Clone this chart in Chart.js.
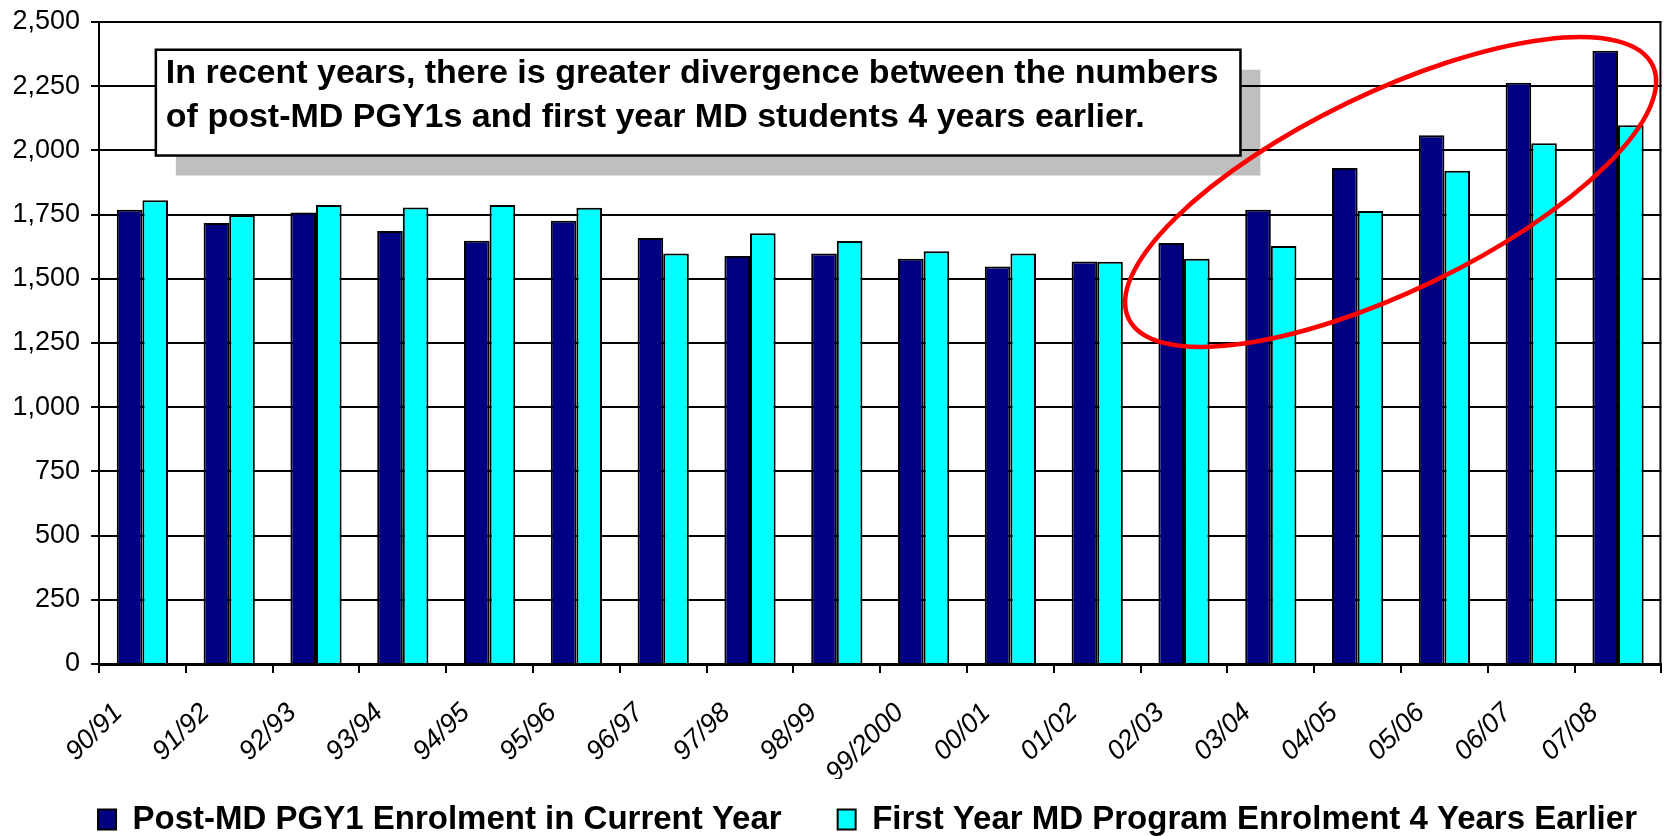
<!DOCTYPE html>
<html>
<head>
<meta charset="utf-8">
<script src="https://cdn.jsdelivr.net/npm/chart.js@4.4.1/dist/chart.umd.min.js"></script>
<style>
  html, body { margin: 0; padding: 0; background: #ffffff; }
  #wrap { width: 1665px; height: 836px; }
</style>
</head>
<body>
<div id="wrap"><canvas id="c" width="1665" height="836"></canvas></div>
<script>
// ---- data ----
const categories = ['90/91','91/92','92/93','93/94','94/95','95/96','96/97','97/98','98/99','99/2000',
                    '00/01','01/02','02/03','03/04','04/05','05/06','06/07','07/08'];
const pgy1CurrentYear = [1769,1717,1758,1686,1648,1726,1659,1589,1599,1578,1548,1567,1639,1769,1931,2059,2263,2388];
const firstYear4Earlier = [1806,1747,1787,1778,1787,1777,1599,1677,1647,1607,1599,1566,1578,1628,1764,1921,2028,2098];
const seriesNames = ['Post-MD PGY1 Enrolment in Current Year', 'First Year MD Program Enrolment 4 Years Earlier'];
const yTickValues = [0,250,500,750,1000,1250,1500,1750,2000,2250,2500];
const noteLines = ['In recent years, there is greater divergence between the numbers',
                   'of post-MD PGY1s and first year MD students 4 years earlier.'];

// ---- annotation placement (in axis units) ----
const noteBox = { x0: 0.155, x1: 12.65, y0: 2392, y1: 1980 };
const ellipseSpec = { xc: 14.38, yc: 1838, a: 291, b: 99, angleDeg: -25.8 };
const legendShift = { dx: 34, dy: -32 };

const FONT = '"Liberation Sans", Arial, Helvetica, sans-serif';

const legendPlacement = {
  id: 'legendPlacement',
  afterLayout(chart) {
    const lg = chart.legend;
    if (!lg) return;
    lg.left += legendShift.dx; lg.right += legendShift.dx;
    lg.top += legendShift.dy; lg.bottom += legendShift.dy;
  }
};

const annotationPlugin = {
  id: 'annotations',
  afterDraw(chart) {
    const { ctx, chartArea: ca, scales: { x, y } } = chart;
    ctx.save();
    // right border of plot area
    ctx.strokeStyle = '#000';
    ctx.lineWidth = 2;
    ctx.beginPath();
    ctx.moveTo(ca.right - 1, ca.top - 1);
    ctx.lineTo(ca.right - 1, ca.bottom);
    ctx.stroke();

    // text box with shadow
    const bx0 = x.getPixelForValue(noteBox.x0);
    const bx1 = x.getPixelForValue(noteBox.x1);
    const by0 = y.getPixelForValue(noteBox.y0);
    const by1 = y.getPixelForValue(noteBox.y1);
    ctx.fillStyle = 'rgba(0,0,0,0.25)';
    ctx.fillRect(bx0 + 20, by0 + 20, bx1 - bx0, by1 - by0);
    ctx.fillStyle = '#ffffff';
    ctx.fillRect(bx0, by0, bx1 - bx0, by1 - by0);
    ctx.strokeStyle = '#000';
    ctx.lineWidth = 2.5;
    ctx.strokeRect(bx0, by0, bx1 - bx0, by1 - by0);
    ctx.fillStyle = '#000';
    ctx.font = 'bold 34px ' + FONT;
    ctx.textAlign = 'left';
    ctx.textBaseline = 'alphabetic';
    noteLines.forEach((t, i) => ctx.fillText(t, bx0 + 10, by0 + 33 + i * 44));

    // red ellipse
    const ex = x.getPixelForValue(ellipseSpec.xc);
    const ey = y.getPixelForValue(ellipseSpec.yc);
    ctx.strokeStyle = '#ff0000';
    ctx.lineWidth = 4.5;
    ctx.beginPath();
    ctx.ellipse(ex, ey, ellipseSpec.a, ellipseSpec.b, ellipseSpec.angleDeg * Math.PI / 180, 0, Math.PI * 2);
    ctx.stroke();
    ctx.restore();
  }
};

new Chart(document.getElementById('c'), {
  type: 'bar',
  data: {
    labels: categories,
    datasets: [
      { label: seriesNames[0], data: pgy1CurrentYear, backgroundColor: '#000080', borderColor: '#000000', borderWidth: 2 },
      { label: seriesNames[1], data: firstYear4Earlier, backgroundColor: '#00ffff', borderColor: '#000000', borderWidth: 2 }
    ]
  },
  options: {
    responsive: false,
    animation: false,
    devicePixelRatio: 1,
    datasets: { bar: { categoryPercentage: 0.59, barPercentage: 1.0 } },
    layout: { padding: { left: 4, right: 2, top: 22, bottom: -42 } },
    plugins: {
      tooltip: { enabled: false },
      title: { display: false },
      legend: {
        position: 'bottom',
        labels: {
          boxWidth: 18,
          boxHeight: 20,
          padding: 56,
          color: '#000',
          font: { family: FONT, size: 33, weight: 'bold' }
        }
      }
    },
    scales: {
      x: {
        offset: true,
        grid: { display: true, drawOnChartArea: false, drawTicks: true, tickLength: 9, color: '#000', lineWidth: 2, offset: true },
        border: { display: true, color: '#000', width: 3 },
        ticks: {
          color: '#000',
          minRotation: 45,
          maxRotation: 45,
          autoSkip: false,
          padding: 24,
          labelOffset: -24,
          font: { family: FONT, size: 27, style: 'italic' }
        },
        afterFit(scale) { scale.height = 115; }
      },
      y: {
        min: 0,
        max: 2500,
        afterBuildTicks(scale) { scale.ticks = yTickValues.map(v => ({ value: v })); },
        grid: { color: '#000', lineWidth: 2, drawTicks: true, tickLength: 8 },
        border: { display: true, color: '#000', width: 2 },
        ticks: {
          color: '#000',
          padding: 11,
          font: { family: FONT, size: 27 },
          callback: v => v.toLocaleString('en-US')
        },
        afterFit(scale) {
          scale.width = 99 - 4;
          scale.paddingTop = 0;
          scale.paddingBottom = 0;
        }
      }
    }
  },
  plugins: [legendPlacement, annotationPlugin]
});
</script>
</body>
</html>
